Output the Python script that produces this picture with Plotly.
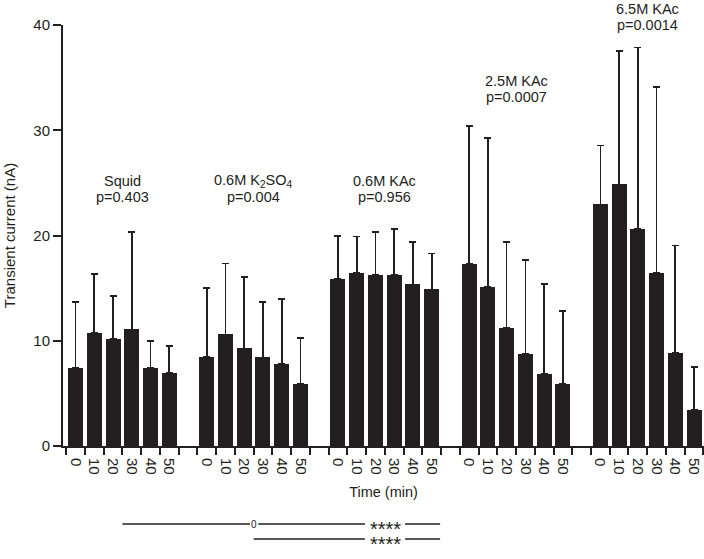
import plotly.graph_objects as go

# ---- data ----
groups = ["Squid", "0.6M K<sub>2</sub>SO<sub>4</sub>", "0.6M KAc", "2.5M KAc", "6.5M KAc"]
pvalues = ["p=0.403", "p=0.004", "p=0.956", "p=0.0007", "p=0.0014"]
times = ["0", "10", "20", "30", "40", "50"]

squid_mean = [7.44, 10.76, 10.16, 11.08, 7.44, 6.96]
squid_err = [6.26, 5.57, 4.11, 9.22, 2.56, 2.57]
k2so4_mean = [8.45, 10.6, 9.27, 8.42, 7.76, 5.92]
k2so4_err = [6.58, 6.75, 6.78, 5.23, 6.24, 4.34]
kac06_mean = [15.89, 16.43, 16.24, 16.27, 15.35, 14.88]
kac06_err = [4.08, 3.47, 4.11, 4.37, 4.05, 3.42]
kac25_mean = [17.28, 15.1, 11.18, 8.74, 6.84, 5.86]
kac25_err = [13.11, 14.15, 8.19, 8.92, 8.54, 6.99]
kac65_mean = [22.95, 24.85, 20.64, 16.46, 8.83, 3.45]
kac65_err = [5.61, 12.69, 17.22, 17.66, 10.23, 4.08]

means = [squid_mean, k2so4_mean, kac06_mean, kac25_mean, kac65_mean]
errs = [squid_err, k2so4_err, kac06_err, kac25_err, kac65_err]

# label heights (data units) for the group annotations
label_y = [23.65, 23.65, 23.65, 33.14, 39.98]

INK = "#231f20"
FONT = "Liberation Sans, Arial, sans-serif"
SLOT = len(times) + 1  # 6 bars + 1 gap

fig = go.Figure()
xs_all, labels_all = [], []
for g, (m, e) in enumerate(zip(means, errs)):
    xs = [g * SLOT + i for i in range(len(times))]
    xs_all += xs
    labels_all += times
    fig.add_trace(go.Bar(
        x=xs, y=m, width=0.8,
        marker=dict(color=INK, line=dict(width=0)),
        error_y=dict(type="data", array=e, arrayminus=[0] * len(e), symmetric=False,
                     color=INK, thickness=1.7, width=3.5),
        showlegend=False, hoverinfo="skip",
    ))
    cx = g * SLOT + (len(times) - 1) / 2
    fig.add_annotation(x=cx, y=label_y[g], xref="x", yref="y", text=pvalues[g],
                       showarrow=False, yanchor="middle",
                       font=dict(family=FONT, size=14.5, color=INK))
    fig.add_annotation(x=cx, y=label_y[g], xref="x", yref="y", text=groups[g],
                       showarrow=False, yanchor="middle", yshift=16.5,
                       font=dict(family=FONT, size=14.5, color=INK))

# comparison lines below the axis (broken around their labels)
sq_c = 0 * SLOT + 2.5
k2_c = 1 * SLOT + 2.5
k06_c = 2 * SLOT + 2.5
k06_end = 2 * SLOT + 5.45
y1, y2 = -0.1853, -0.2209
segments = [
    (sq_c, k2_c - 0.19, y1), (k2_c + 0.25, k06_c - 1.06, y1), (k06_c + 1.08, k06_end, y1),
    (k2_c, k06_c - 1.06, y2), (k06_c + 1.08, k06_end, y2),
]
for xa, xb, yy in segments:
    fig.add_shape(type="line", xref="x", yref="paper", x0=xa, x1=xb, y0=yy, y1=yy,
                  line=dict(color=INK, width=1.5))
fig.add_annotation(x=k2_c + 0.03, y=y1, xref="x", yref="paper", text="0", showarrow=False,
                   yanchor="middle", font=dict(family=FONT, size=10, color=INK))
for yy in [y1, y2]:
    fig.add_annotation(x=k06_c + 0.02, y=yy, xref="x", yref="paper", text="****", showarrow=False,
                       yanchor="middle", yshift=-5,
                       font=dict(family=FONT, size=20, color=INK))

fig.update_layout(
    width=704, height=559,
    margin=dict(l=63, r=0, t=25, b=113),
    plot_bgcolor="white", paper_bgcolor="white",
    bargap=0,
    font=dict(family=FONT, color=INK),
    xaxis=dict(
        range=[-0.67, 33.53],
        tickmode="array", tickvals=xs_all, ticktext=labels_all,
        tickangle=90, ticks="outside", ticklen=7, tickcolor="rgba(0,0,0,0)",
        tickfont=dict(family=FONT, size=15, color=INK),
        showline=True, linecolor=INK, linewidth=2,
        showgrid=False, zeroline=False,
        minor=dict(ticks="outside", tickmode="linear", tick0=-0.5, dtick=1,
                   ticklen=7, tickwidth=1.8, tickcolor=INK, showgrid=False),
        title=dict(text="Time (min)", standoff=13, font=dict(family=FONT, size=14.5, color=INK)),
    ),
    yaxis=dict(
        range=[0, 40], tickvals=[0, 10, 20, 30, 40],
        ticks="outside", ticklen=8, tickwidth=1.8, tickcolor=INK,
        tickfont=dict(family=FONT, size=15, color=INK),
        showline=True, linecolor=INK, linewidth=2,
        showgrid=False, zeroline=False,
        title=dict(text="Transient current (nA)", standoff=14,
                   font=dict(family=FONT, size=15, color=INK)),
    ),
)

fig.write_html("out.html", config={"displayModeBar": False},
               post_script="document.body.style.margin='0';")
